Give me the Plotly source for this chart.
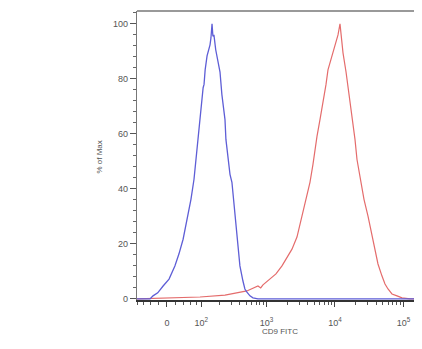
import numpy as np
import plotly.graph_objects as go

# ---- data (fluorescence intensity, % of max) ----
blue_x = [-83, -42, -34, -22, -9, 5, 19, 29, 40, 51, 63, 73, 80, 91, 99, 103, 108, 112,
          117, 126, 131, 141, 146, 152, 157, 163, 174, 188, 203, 217, 242, 250, 268,
          288, 308, 330, 366, 392, 405, 449, 480, 514, 570, 631, 747, 186800]
blue_y = [0, 0, 1.1, 2.2, 4.7, 7.2, 12, 16.3, 21.7, 28.3, 36.2, 43.5, 50.7, 62.7, 68.8,
          71.4, 76.8, 78, 83.3, 88.4, 89.5, 92.4, 94.9, 100, 95.5, 96, 90.6, 87, 82.5, 74.3,
          65.2, 58, 50.7, 45.3, 42.4, 34.4, 24.3, 16, 12, 6.5, 3.6, 2.5, 1.1, 0.4, 0, 0]

red_x = [-83, -5, 95, 242, 514, 747, 820, 885, 1120, 1371, 1680, 1988, 2352, 2782, 3293,
         3766, 4308, 4766, 5101, 5456, 6034, 6676, 7385, 7899, 9040, 10346, 11063, 11834,
         13090, 14483, 15487, 17129, 18328, 19600, 20960, 22430, 23985, 26530, 30360,
         33586, 38416, 42490, 48615, 53790, 59500, 68040, 80570, 95340, 124740, 186800]
red_y = [0, 0.2, 0.7, 1.4, 2.9, 4.7, 4.0, 5.1, 7.2, 9.1, 12, 14.9, 18.1, 22.5, 30.1, 36.2,
         42.4, 48.9, 54.3, 59.1, 65.2, 71.4, 77.9, 83.3, 88.8, 94.2, 96, 100, 89.5, 82.6,
         77.2, 70.7, 65.2, 58, 50.7, 46.4, 42.4, 36.2, 30.1, 24.6, 18.1, 12.7, 8.3, 5.4,
         3.6, 1.8, 1.1, 0.4, 0, 0]

x_major_vals = [0, 100, 1000, 10000, 100000]
x_major_text = ["0", "10<sup>2</sup>", "10<sup>3</sup>", "10<sup>4</sup>", "10<sup>5</sup>"]
x_minor_vals = ([-80, -60, -40, -20, 20, 40, 60, 80]
                + [m * 10 ** k for k in (2, 3, 4) for m in range(2, 10)])
x_limits = [-83, 186800]
y_limits = [-0.4, 104.7]

X_TITLE = "CD9 FITC"
Y_TITLE = "% of Max"

# biexponential-like display transform
C = 70.0
def tf(v):
    return np.arcsinh(np.asarray(v, dtype=float) / C) / np.log(10)

fig = go.Figure()
fig.add_trace(go.Scatter(x=tf(red_x), y=red_y, mode="lines",
                         line=dict(color="#e46c6c", width=1.2), showlegend=False))
fig.add_trace(go.Scatter(x=tf(blue_x), y=blue_y, mode="lines",
                         line=dict(color="#5e5ed6", width=1.3), showlegend=False))

tick_font = dict(family="Liberation Sans, Arial, sans-serif", size=9, color="#555555")

fig.update_layout(
    width=414, height=341,
    margin=dict(l=129, r=0, t=3, b=49),
    paper_bgcolor="white", plot_bgcolor="white",
    xaxis=dict(
        range=list(tf(x_limits)), showgrid=False, zeroline=False,
        showline=True, linecolor="#333333", linewidth=1.5, mirror=False,
        tickmode="array", tickvals=list(tf(x_major_vals)), ticktext=x_major_text,
        ticks="outside", ticklen=5, tickcolor="#444444", tickwidth=1,
        ticklabelstandoff=8, tickfont=tick_font,
        minor=dict(tickvals=list(tf(x_minor_vals)), ticks="outside", ticklen=3,
                   tickcolor="#555555", tickwidth=1),
    ),
    yaxis=dict(
        range=y_limits, showgrid=False, zeroline=False,
        showline=True, linecolor="#777777", linewidth=1.2,
        tickmode="linear", tick0=0, dtick=20,
        ticks="outside", ticklen=6, tickcolor="#555555", tickwidth=1,
        tickfont=tick_font,
        minor=dict(dtick=4, ticks="outside", ticklen=3, tickcolor="#666666", tickwidth=1),
    ),
    annotations=[
        dict(text=X_TITLE, xref="paper", yref="paper", x=0.502, y=-0.131,
             showarrow=False, font=dict(family="Liberation Sans, Arial, sans-serif",
                                        size=8, color="#555555")),
        dict(text=Y_TITLE, xref="paper", yref="paper", x=-0.154, y=0.495,
             textangle=-90, showarrow=False,
             font=dict(family="Liberation Sans, Arial, sans-serif", size=8, color="#555555")),
    ],
    shapes=[dict(type="line", xref="paper", yref="paper", x0=0, x1=1, y0=1, y1=1,
                 line=dict(color="#999999", width=2))],
)

fig.write_html("out.html")
